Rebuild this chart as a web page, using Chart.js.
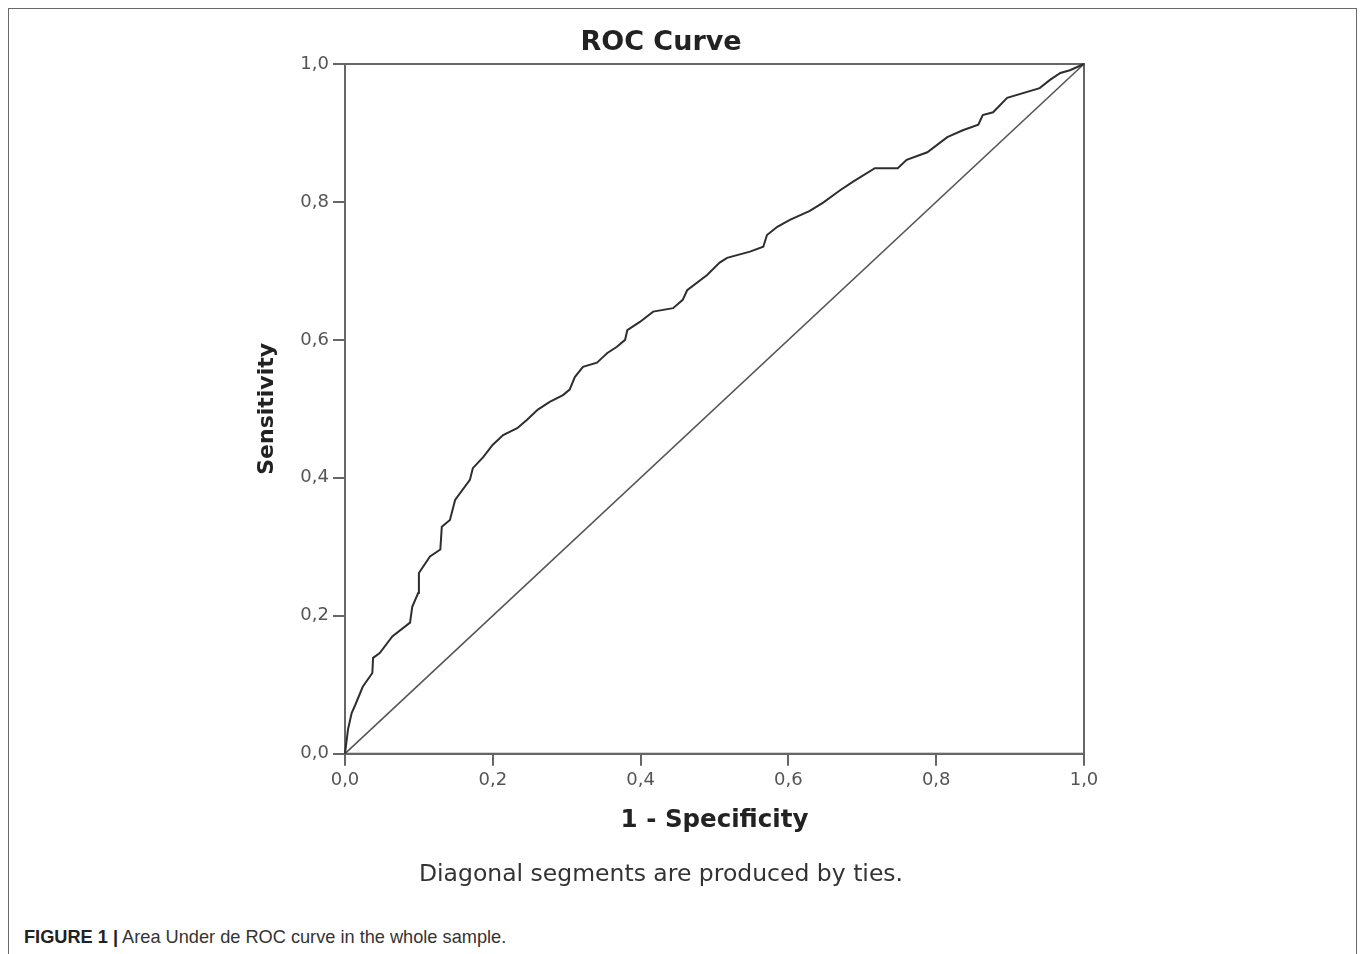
<!DOCTYPE html>
<html>
<head>
<meta charset="utf-8">
<script src="https://cdn.jsdelivr.net/npm/chart.js@4.4.1/dist/chart.umd.min.js"></script>
<style>
html,body{margin:0;padding:0;background:#fff;width:1360px;height:954px;overflow:hidden;}
#frame{position:absolute;left:8px;top:8px;width:1349px;height:980px;border:1px solid #6a6a6a;box-sizing:border-box;}
#wrap{position:absolute;left:0;top:0;width:1360px;height:900px;}
#caption{position:absolute;left:24px;top:927px;font-family:"Liberation Sans",Arial,sans-serif;font-size:18.2px;color:#333;white-space:nowrap;line-height:20px;}
#caption b{color:#222;}
</style>
</head>
<body>
<div id="frame"></div>
<div id="wrap"><canvas id="c" width="1360" height="900"></canvas></div>
<div id="caption"><b>FIGURE 1 |</b> Area Under de ROC curve in the whole sample.</div>
<script>
// 1 - Specificity (false positive rate)
const fprValues = [0,0.004,0.009,0.014,0.024,0.037,0.038,0.047,0.064,0.088,0.091,0.099,0.100,0.115,0.129,0.131,0.142,0.149,0.169,0.173,0.187,0.200,0.214,0.233,0.246,0.261,0.277,0.295,0.304,0.311,0.322,0.341,0.349,0.355,0.368,0.379,0.382,0.399,0.417,0.444,0.457,0.463,0.490,0.507,0.517,0.548,0.566,0.571,0.585,0.602,0.629,0.647,0.670,0.687,0.717,0.748,0.760,0.788,0.815,0.836,0.857,0.863,0.877,0.896,0.940,0.954,0.968,0.981,1.000];
// Sensitivity (true positive rate)
const tprValues = [0,0.035,0.059,0.071,0.097,0.117,0.139,0.146,0.170,0.190,0.213,0.233,0.262,0.286,0.296,0.329,0.339,0.368,0.397,0.414,0.430,0.448,0.462,0.472,0.484,0.499,0.510,0.520,0.528,0.546,0.561,0.567,0.575,0.581,0.590,0.600,0.614,0.626,0.641,0.646,0.658,0.672,0.694,0.712,0.719,0.728,0.735,0.752,0.764,0.774,0.787,0.799,0.817,0.829,0.849,0.849,0.861,0.872,0.894,0.904,0.912,0.926,0.930,0.951,0.965,0.977,0.987,0.991,1.000];
// Reference line
const refX = [0,1];
const refY = [0,1];
// Ticks
const tickValues = [0,0.2,0.4,0.6,0.8,1.0];
const tickLabels = ['0,0','0,2','0,4','0,6','0,8','1,0'];

const rocPoints = fprValues.map((x,i)=>({x:x,y:tprValues[i]}));
const refPoints = refX.map((x,i)=>({x:x,y:refY[i]}));

const frameColor = '#666';
const tickFont = {family:'DejaVu Sans', size:18};

const framePlugin = {
  id:'plotFrame',
  beforeDatasetsDraw(chart){
    const {ctx, chartArea:a} = chart;
    ctx.save();
    ctx.strokeStyle = frameColor;
    ctx.lineWidth = 2;
    ctx.strokeRect(a.left, a.top, a.right-a.left, a.bottom-a.top);
    ctx.restore();
  }
};

function fixedTicks(scale){ scale.ticks = tickValues.map(v=>({value:v})); }

new Chart(document.getElementById('c'), {
  type:'scatter',
  data:{
    datasets:[
      {label:'ROC', data:rocPoints, showLine:true, borderColor:'#2e2e2e', borderWidth:2, pointRadius:0, tension:0, clip:false},
      {label:'Reference', data:refPoints, showLine:true, borderColor:'#555', borderWidth:1.6, pointRadius:0, tension:0, clip:false}
    ]
  },
  options:{
    responsive:false,
    animation:false,
    devicePixelRatio:1,
    layout:{padding:{left:238, right:276, top:0, bottom:11.5}},
    plugins:{
      legend:{display:false},
      tooltip:{enabled:false},
      title:{display:true, text:'ROC Curve', color:'#222', font:{family:'DejaVu Sans', size:27, weight:'bold'}, padding:{top:26.8, bottom:4.8}},
      subtitle:{display:true, position:'bottom', text:'Diagonal segments are produced by ties.', color:'#333', font:{family:'DejaVu Sans', size:23.5, weight:'normal'}, padding:{top:24.9, bottom:0}}
    },
    scales:{
      x:{
        type:'linear', position:'bottom', min:0, max:1,
        afterBuildTicks:fixedTicks,
        afterFit(s){ s.height = 81.7; },
        grid:{display:true, drawOnChartArea:false, drawTicks:true, tickLength:12, color:frameColor, lineWidth:2},
        border:{display:true, color:frameColor, width:2},
        ticks:{padding:4, color:'#555', font:tickFont, maxRotation:0, autoSkip:false, callback:(v,i)=>tickLabels[i]},
        title:{display:true, text:'1 - Specificity', color:'#222', font:{family:'DejaVu Sans', size:24.5, weight:'bold'}, padding:{top:0, bottom:0}}
      },
      y:{
        type:'linear', position:'left', min:0, max:1,
        afterBuildTicks:fixedTicks,
        afterFit(s){ s.width = 107; },
        grid:{display:true, drawOnChartArea:false, drawTicks:true, tickLength:12, color:frameColor, lineWidth:2},
        border:{display:true, color:frameColor, width:2},
        ticks:{padding:4, color:'#555', font:tickFont, autoSkip:false, callback:(v,i)=>tickLabels[i]},
        title:{display:true, text:'Sensitivity', color:'#222', font:{family:'DejaVu Sans', size:22, weight:'bold'}, padding:{top:15.8, bottom:0}}
      }
    }
  },
  plugins:[framePlugin]
});
</script>
</body>
</html>
